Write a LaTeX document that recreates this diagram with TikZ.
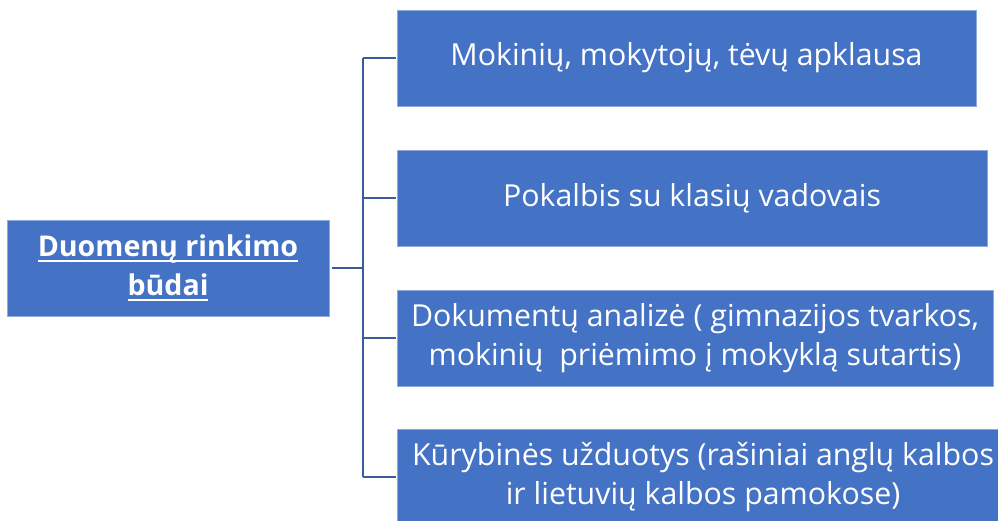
\documentclass[tikz,border=0pt]{standalone}
\usepackage{fontspec}
\setmainfont{Open Sans}
\usetikzlibrary{calc}
\definecolor{boxfill}{HTML}{4472C4}
\definecolor{boxedge}{HTML}{8FAADC}
\definecolor{linkcol}{HTML}{3A5A9A}
\newcommand{\ubar}[1]{\leavevmode\setbox0\hbox{#1}\rlap{\rule[-6pt]{\wd0}{2.2pt}}\box0}
\tikzset{
	methodbox/.style={draw=boxedge, line width=0.8pt, fill=boxfill, text=white, align=center,
		minimum height=96pt, inner sep=0pt, font=\fontsize{30.3}{39}\selectfont},
	link/.style={draw=linkcol, line width=2.6pt}
}
\begin{document}
\begin{tikzpicture}[x=1pt,y=-1pt]
	\clip (0,0) rectangle (998,521);
	\useasboundingbox (0,0) rectangle (998,521);
	
	%main box
	\node[methodbox, minimum width=322pt, font=\fontsize{28.6}{39}\selectfont\bfseries] (main) at (168,268)
		{\ubar{Duomenų rinkimo}\\\ubar{būdai}};
	
	%right boxes
	\node[methodbox, minimum width=579pt] (survey) at (686.5,58) {Mokinių, mokytojų, tėvų apklausa};
	\node[methodbox, minimum width=590pt] (talk) at (692,198) {Pokalbis su klasių vadovais};
	\node[methodbox, minimum width=596pt] (docs) at (695,338) {Dokumentų analizė ( gimnazijos tvarkos,\\mokinių~ priėmimo į mokyklą sutartis)};
	\node[methodbox, minimum width=612pt] (tasks) at (703,477) {Kūrybinės užduotys (rašiniai anglų kalbos\\ir lietuvių kalbos pamokose)};
	
	%trunk points
	\coordinate (hub) at (363,268);
	\coordinate (t1) at (363,58);
	\coordinate (t2) at (363,198);
	\coordinate (t3) at (363,338);
	\coordinate (t4) at (363,477);
	
	%connectors
	\draw[link] ([xshift=3pt]main.east |- hub) -- (hub);
	\draw[link] (t1) -- (t4);
	\foreach \p/\b in {t1/survey,t2/talk,t3/docs,t4/tasks}
		\draw[link] (\p) -- ([xshift=-1pt]\b.west |- \p);
\end{tikzpicture}
\end{document}
